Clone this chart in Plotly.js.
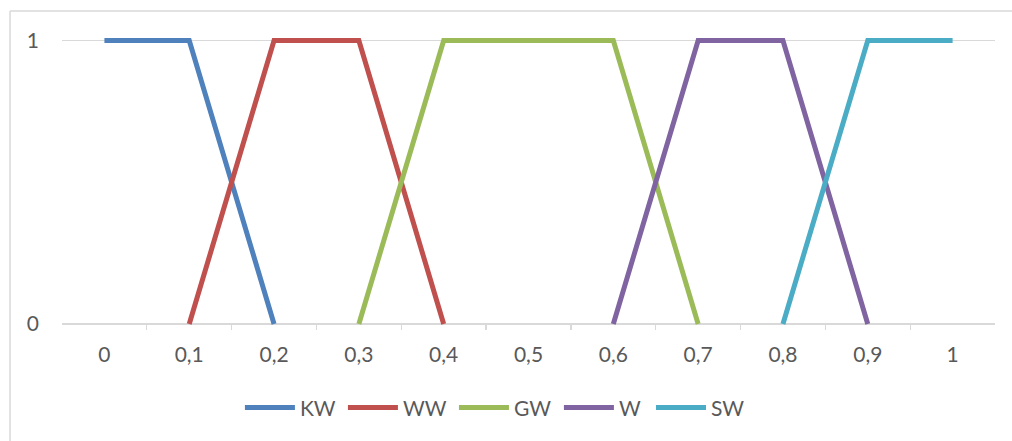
<!DOCTYPE html>
<html>
<head>
<meta charset="utf-8">
<script src="https://cdn.plot.ly/plotly-3.0.1.min.js"></script>
<style>
  html, body { margin: 0; padding: 0; background: #ffffff; }
  #chart { width: 1012px; height: 441px; }
</style>
</head>
<body>
<div id="chart"></div>
<script>
// Category labels along the horizontal axis
const categories = ["0", "0,1", "0,2", "0,3", "0,4", "0,5", "0,6", "0,7", "0,8", "0,9", "1"];

// Membership values per fuzzy set (null = no point)
const kw = [1, 1, 0, null, null, null, null, null, null, null, null];
const ww = [null, 0, 1, 1, 0, null, null, null, null, null, null];
const gw = [null, null, null, 0, 1, 1, 1, 0, null, null, null];
const w  = [null, null, null, null, null, null, 0, 1, 1, 0, null];
const sw = [null, null, null, null, null, null, null, null, 0, 1, 1];

const seriesNames = ["KW", "WW", "GW", "W", "SW"];
const seriesValues = [kw, ww, gw, w, sw];
const seriesColors = ["#4F81BD", "#C0504D", "#9BBB59", "#8064A2", "#4BACC6"];

const yTickVals = [0, 1];
const yTickText = ["0", "1"];

const fontFamily = "Lato, 'Open Sans', sans-serif";
const textColor = "#595959";
const gridColor = "#d9d9d9";

// one legend per series so each entry sits at its own horizontal slot
const legendIds = ["legend", "legend2", "legend3", "legend4", "legend5"];
const legendSlots = [0.1907, 0.3011, 0.4201, 0.5326, 0.6313];

const traces = seriesNames.map((name, i) => ({
  type: "scatter",
  mode: "lines",
  name: name,
  x: categories,
  y: seriesValues[i],
  connectgaps: false,
  legend: legendIds[i],
  line: { color: seriesColors[i], width: 5 },
  hoverinfo: "x+y+name"
}));

const layout = {
  width: 1012,
  height: 441,
  margin: { l: 62, r: 17, t: 35, b: 111 },
  paper_bgcolor: "#ffffff",
  plot_bgcolor: "#ffffff",
  font: { family: fontFamily, size: 21, color: textColor },
  showlegend: true,
  xaxis: {
    type: "category",
    categoryorder: "array",
    categoryarray: categories,
    range: [-0.5, categories.length - 0.5],
    showgrid: false,
    showline: false,
    zeroline: false,
    ticks: "inside",
    tickson: "boundaries",
    ticklen: 6,
    tickwidth: 1.3,
    tickcolor: gridColor,
    ticklabelstandoff: 10,
    tickfont: { family: fontFamily, size: 21, color: textColor },
    fixedrange: true
  },
  yaxis: {
    range: [-0.0212, 1.0194],
    tickvals: yTickVals,
    ticktext: yTickText,
    showgrid: true,
    gridcolor: gridColor,
    gridwidth: 1.3,
    zeroline: true,
    zerolinecolor: gridColor,
    zerolinewidth: 1.5,
    showline: false,
    ticks: "",
    ticklabelstandoff: 22,
    tickfont: { family: fontFamily, size: 21, color: textColor },
    fixedrange: true
  },
  shapes: [
    // chart frame: top and left edges
    { type: "line", xref: "paper", yref: "paper", x0: -0.0557, x1: 1.02, y0: 1.0814, y1: 1.0814,
      line: { color: gridColor, width: 1.5 } },
    { type: "line", xref: "paper", yref: "paper", x0: -0.0557, x1: -0.0557, y0: 1.0814, y1: -0.4,
      line: { color: gridColor, width: 1.5 } }
  ]
};

legendIds.forEach((id, i) => {
  layout[id] = {
    orientation: "h",
    x: legendSlots[i],
    xanchor: "left",
    y: -0.264,
    yanchor: "middle",
    itemwidth: 50,
    borderwidth: 0,
    font: { family: fontFamily, size: 21, color: textColor },
    bgcolor: "rgba(0,0,0,0)"
  };
});

Plotly.newPlot("chart", traces, layout, { displayModeBar: false, staticPlot: true });
</script>
</body>
</html>
